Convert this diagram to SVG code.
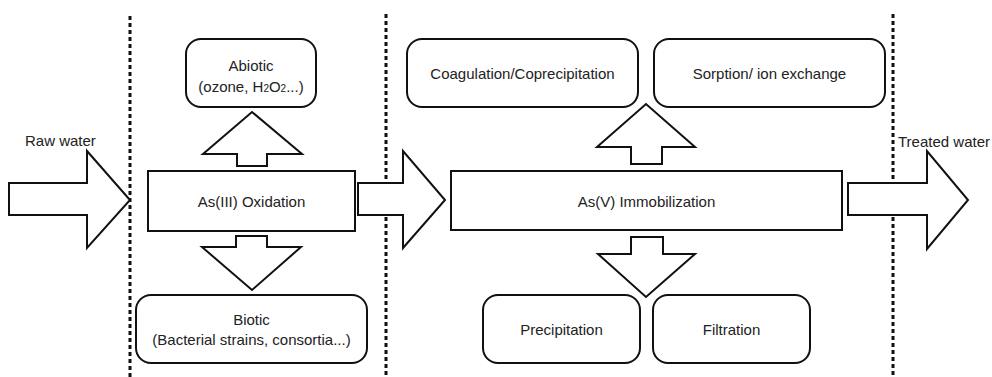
<svg xmlns="http://www.w3.org/2000/svg" width="992" height="377" viewBox="0 0 992 377">
<style>
.box{fill:#fff;stroke:#111;stroke-width:2}
.arr{fill:#fff;stroke:#111;stroke-width:2;stroke-linejoin:miter}
.sep{stroke:#111;stroke-width:3;stroke-dasharray:4 3;fill:none}
.t{font-family:"Liberation Sans",Arial,sans-serif;font-size:15px;fill:#222;text-anchor:middle;dominant-baseline:central}
.lbl{font-family:"Liberation Sans",Arial,sans-serif;font-size:15px;fill:#222}
</style>
<rect width="992" height="377" fill="#fff"/>
<g id="separators">
<line class="sep" x1="130" y1="16" x2="130" y2="377"/>
<line class="sep" x1="386" y1="14" x2="386" y2="377"/>
<line class="sep" x1="893" y1="14" x2="893" y2="377"/>
</g>
<g id="connectors">
<polygon class="arr" points="9,183 87,183 87,151 130,200 87,248 87,215 9,215"/>
<polygon class="arr" points="358,183 403,183 403,151 445,200 403,248 403,215 358,215"/>
<polygon class="arr" points="848,183 927,183 927,151 968,200 927,249 927,215 848,215"/>
<polygon class="arr" points="237,166 237,154 203,154 252,112 302,154 267,154 267,166"/>
<polygon class="arr" points="236,236 267,236 267,247 301,247 252,290 202,247 236,247"/>
<polygon class="arr" points="631,164 631,147 597,147 646,104 695,147 662,147 662,164"/>
<polygon class="arr" points="631,237 663,237 663,254 695,254 646,297 598,254 631,254"/>
</g>
<g id="raw-water"><text class="lbl" x="25" y="146">Raw water</text></g>
<g id="treated-water"><text class="lbl" x="898" y="147">Treated water</text></g>
<g id="oxidation">
<rect class="box" x="148" y="171" width="207" height="60"/>
<text class="t" x="251.5" y="201">As(III) Oxidation</text>
</g>
<g id="abiotic">
<rect class="box" x="186" y="39" width="130" height="68" rx="15"/>
<text class="t" x="251" y="65">Abiotic</text>
<text class="t" x="251" y="86">(ozone, H<tspan font-size="10" dy="2">2</tspan><tspan dy="-2">O</tspan><tspan font-size="10" dy="2">2</tspan><tspan dy="-2">...)</tspan></text>
</g>
<g id="biotic">
<rect class="box" x="136" y="295" width="231" height="68" rx="15"/>
<text class="t" x="251.5" y="319">Biotic</text>
<text class="t" x="251.5" y="339">(Bacterial strains, consortia...)</text>
</g>
<g id="immobilization">
<rect class="box" x="451" y="171" width="391" height="59"/>
<text class="t" x="646.5" y="201">As(V) Immobilization</text>
</g>
<g id="coagulation">
<rect class="box" x="407" y="39" width="231" height="68" rx="15"/>
<text class="t" x="522.5" y="73">Coagulation/Coprecipitation</text>
</g>
<g id="sorption">
<rect class="box" x="654" y="39" width="231" height="68" rx="15"/>
<text class="t" x="769.5" y="73">Sorption/ ion exchange</text>
</g>
<g id="precipitation">
<rect class="box" x="483" y="295" width="157" height="68" rx="15"/>
<text class="t" x="561.5" y="329">Precipitation</text>
</g>
<g id="filtration">
<rect class="box" x="653" y="295" width="157" height="68" rx="15"/>
<text class="t" x="731.5" y="329">Filtration</text>
</g>
</svg>
